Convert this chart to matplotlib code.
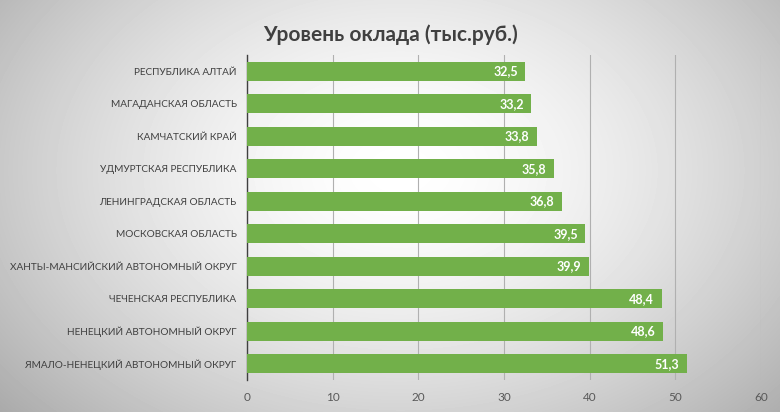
import numpy as np
import matplotlib
matplotlib.use("Agg")
import matplotlib.pyplot as plt

# Data (top to bottom as shown) ...
regions = [
    "РЕСПУБЛИКА АЛТАЙ",
    "МАГАДАНСКАЯ ОБЛАСТЬ",
    "КАМЧАТСКИЙ КРАЙ",
    "УДМУРТСКАЯ РЕСПУБЛИКА",
    "ЛЕНИНГРАДСКАЯ ОБЛАСТЬ",
    "МОСКОВСКАЯ ОБЛАСТЬ",
    "ХАНТЫ-МАНСИЙСКИЙ АВТОНОМНЫЙ ОКРУГ",
    "ЧЕЧЕНСКАЯ РЕСПУБЛИКА",
    "НЕНЕЦКИЙ АВТОНОМНЫЙ ОКРУГ",
    "ЯМАЛО-НЕНЕЦКИЙ АВТОНОМНЫЙ ОКРУГ",
]
salary = [32.5, 33.2, 33.8, 35.8, 36.8, 39.5, 39.9, 48.4, 48.6, 51.3]
xticks = [0, 10, 20, 30, 40, 50, 60]

plt.rcParams["font.family"] = ["Lato", "Open Sans", "DejaVu Sans"]

fg = plt.figure(figsize=(7.8, 4.12), dpi=100)

# Radial gradient background ...
bg = fg.add_axes([0, 0, 1, 1], zorder=-10)
yy, xx = np.mgrid[0:412, 0:780]
r = np.sqrt(((xx - 400) / 430.0) ** 2 + ((yy - 170) / 300.0) ** 2)
shade = 1.0 - 0.24 * np.clip(r, 0, 1.3) ** 1.6
bg.imshow(shade, cmap="gray", vmin=0, vmax=1, aspect="auto", interpolation="bilinear")
bg.axis("off")

ax = fg.add_axes([0.3167, 0.0777, 0.6590, 0.7888])
ax.patch.set_alpha(0)

y = np.arange(len(regions))
ax.barh(y, salary, height=0.58, color="#72b04a", zorder=3)
for yi, v in zip(y, salary):
    ax.text(v - 0.9, yi, f"{v:.1f}".replace(".", ","), ha="right", va="center",
            color="white", fontsize=9, fontweight="bold", zorder=4)

ax.set_ylim(len(regions) - 0.5, -0.5)
ax.set_xlim(0, 60)
ax.set_yticks(y)
ax.set_yticklabels(regions, fontsize=7.2, color="#404040")
ax.set_xticks(xticks)
ax.set_xticklabels([str(t) for t in xticks], fontsize=8.5, color="#595959")
ax.tick_params(axis="both", length=0)
ax.tick_params(axis="y", pad=7.5)
ax.tick_params(axis="x", pad=9)
ax.grid(axis="x", color="#b0b0b0", linewidth=0.8, zorder=0)
for s in ["top", "right", "bottom"]:
    ax.spines[s].set_visible(False)
ax.spines["left"].set_color("#404040")
ax.spines["left"].set_linewidth(1.0)

fg.text(0.5, 0.915, "Уровень оклада (тыс.руб.)", ha="center", va="center",
        fontsize=15, fontweight="bold", color="#404040")

fg.savefig("out.png", dpi=100)
plt.close(fg)
